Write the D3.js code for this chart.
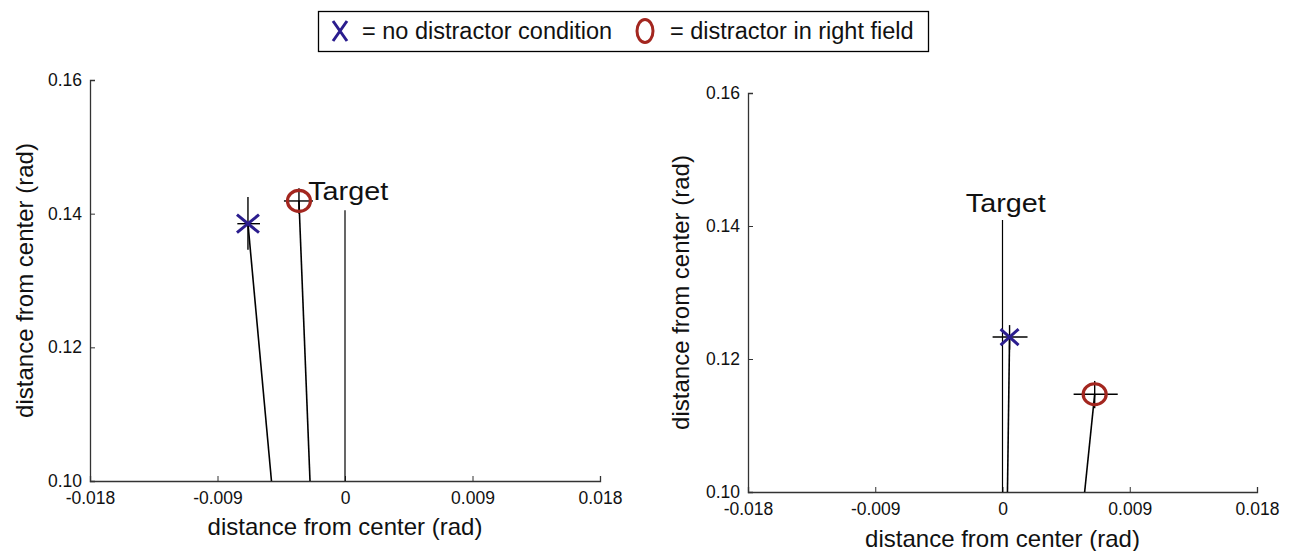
<!DOCTYPE html>
<html>
<head>
<meta charset="utf-8">
<script src="https://cdn.jsdelivr.net/npm/d3@7"></script>
<style>
  body { margin: 0; background: #fff; }
  svg { display: block; font-family: Arial, "Liberation Sans", Helvetica, sans-serif; }
</style>
</head>
<body>
<svg id="chart" width="1293" height="551"></svg>
<script>
// ---------- data ----------
const conditions = ["no distractor condition", "distractor in right field"];
const xTicks = [-0.018, -0.009, 0, 0.009, 0.018];
const xTickLabels = ["-0.018", "-0.009", "0", "0.009", "0.018"];
const yTicks = [0.10, 0.12, 0.14, 0.16];
const yTickLabels = ["0.10", "0.12", "0.14", "0.16"];
// per panel [left, right], per condition [no distractor, distractor right]
const meanX = [[-0.00685, -0.00325], [0.0005, 0.00652]];
const meanY = [[0.1385, 0.1419], [0.1233, 0.1147]];
const errX = [[[-0.0076, -0.0060], [-0.00431, -0.00226]], [[-0.0007, 0.00177], [0.00503, 0.00815]]];
const errY = [[[0.1346, 0.1425], [0.1400, 0.1438]], [[0.1214, 0.1251], [0.1126, 0.1167]]];
const startX = [[-0.00519, -0.00247], [0.00035, 0.00581]];
const targetX = [0, 0];
const targetTop = [0.1405, 0.1409];
const targetLabelX = [-0.0026, -0.0026];
const targetLabelY = [0.1420, 0.1421];

// ---------- layout ----------
const panels = [
  {left: 90, right: 600, top: 80, bottom: 481, ylabX: 24, xlabY: 535, starR: [11, 9]},
  {left: 748, right: 1257, top: 93, bottom: 492, ylabX: 680, xlabY: 547, starR: [9, 8]}
];
const blue = "#2b1d8e", red = "#a3261f";
const svg = d3.select("#chart");

panels.forEach((p, i) => {
  const x = d3.scaleLinear().domain([-0.018, 0.018]).range([p.left, p.right]);
  const y = d3.scaleLinear().domain([0.10, 0.16]).range([p.bottom, p.top]);
  const g = svg.append("g");

  // axes
  const xa = g.append("g").attr("transform", `translate(0,${p.bottom})`)
    .call(d3.axisBottom(x).tickValues(xTicks).tickSize(-5).tickPadding(11)
      .tickFormat((d, k) => xTickLabels[k]));
  const ya = g.append("g").attr("transform", `translate(${p.left},0)`)
    .call(d3.axisLeft(y).tickValues(yTicks).tickSize(-5).tickPadding(8)
      .tickFormat((d, k) => yTickLabels[k]));
  [xa, ya].forEach(a => {
    a.select(".domain").attr("stroke", "#333").attr("stroke-width", 1.3);
    a.selectAll(".tick line").attr("stroke", "#333").attr("stroke-width", 1);
    a.selectAll(".tick text").attr("font-size", 17.5).attr("fill", "#111")
      .attr("font-family", "Arial, 'Liberation Sans', sans-serif");
  });
  xa.selectAll(".tick text").attr("dy", "0.68em");

  // axis titles
  g.append("text").attr("x", (p.left + p.right) / 2).attr("y", p.xlabY)
    .attr("text-anchor", "middle").attr("font-size", 24).attr("fill", "#111")
    .text("distance from center (rad)");
  g.append("text")
    .attr("transform", `translate(${p.ylabX},${(p.top + p.bottom) / 2}) rotate(-90)`)
    .attr("text-anchor", "middle").attr("dominant-baseline", "central")
    .attr("font-size", 24).attr("fill", "#111")
    .text("distance from center (rad)");

  // target line and label
  g.append("line")
    .attr("x1", x(targetX[i])).attr("x2", x(targetX[i]))
    .attr("y1", y(targetTop[i])).attr("y2", y(0.10))
    .attr("stroke", "#000").attr("stroke-width", 1.2);
  g.append("text").attr("x", x(targetLabelX[i])).attr("y", y(targetLabelY[i]))
    .attr("font-size", 25).attr("fill", "#111")
    .attr("textLength", 80).attr("lengthAdjust", "spacingAndGlyphs")
    .text("Target");

  // trajectory lines from start to mean, plus error bars
  [0, 1].forEach(c => {
    g.append("line")
      .attr("x1", x(startX[i][c])).attr("y1", y(0.10))
      .attr("x2", x(meanX[i][c])).attr("y2", y(meanY[i][c]))
      .attr("stroke", "#000").attr("stroke-width", 1.6);
    g.append("line")
      .attr("x1", x(errX[i][c][0])).attr("x2", x(errX[i][c][1]))
      .attr("y1", y(meanY[i][c])).attr("y2", y(meanY[i][c]))
      .attr("stroke", "#000").attr("stroke-width", 1.4);
    g.append("line")
      .attr("x1", x(meanX[i][c])).attr("x2", x(meanX[i][c]))
      .attr("y1", y(errY[i][c][0])).attr("y2", y(errY[i][c][1]))
      .attr("stroke", "#000").attr("stroke-width", 1.4);
  });

  // markers
  const sx = x(meanX[i][0]), sy = y(meanY[i][0]);
  const rx = p.starR[0], ry = p.starR[1];
  g.append("path")
    .attr("d", `M${sx - rx},${sy - ry}L${sx + rx},${sy + ry}M${sx - rx},${sy + ry}L${sx + rx},${sy - ry}`)
    .attr("stroke", blue).attr("stroke-width", 3).attr("fill", "none");
  g.append("ellipse")
    .attr("cx", x(meanX[i][1])).attr("cy", y(meanY[i][1]))
    .attr("rx", 11.5).attr("ry", 10.5)
    .attr("stroke", red).attr("stroke-width", 3.2).attr("fill", "none");
});

// ---------- legend ----------
const lg = svg.append("g");
lg.append("rect").attr("x", 318.5).attr("y", 11.5).attr("width", 610).attr("height", 40)
  .attr("fill", "#fff").attr("stroke", "#000").attr("stroke-width", 1.3);
lg.append("path").attr("d", "M333,21L347,41M333,41L347,21")
  .attr("stroke", blue).attr("stroke-width", 3).attr("fill", "none");
lg.append("text").attr("x", 362).attr("y", 39).attr("font-size", 23.5).attr("fill", "#111")
  .text("= " + conditions[0]);
lg.append("ellipse").attr("cx", 645).attr("cy", 31).attr("rx", 8).attr("ry", 11.5)
  .attr("stroke", red).attr("stroke-width", 3).attr("fill", "none");
lg.append("text").attr("x", 670).attr("y", 39).attr("font-size", 23.5).attr("fill", "#111")
  .text("= " + conditions[1]);
</script>
</body>
</html>
